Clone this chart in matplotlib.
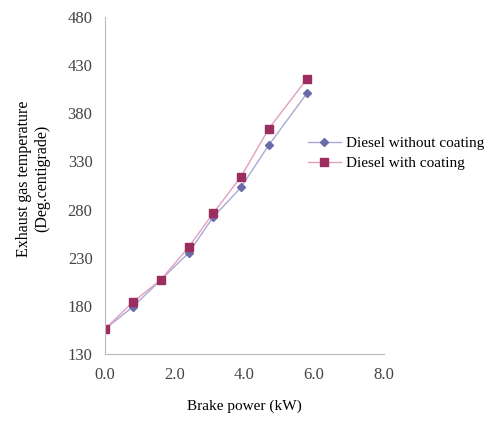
import matplotlib.pyplot as plt

# dati
brake_power = [0.0, 0.8, 1.6, 2.4, 3.1, 3.9, 4.7, 5.8]
temp_without = [156, 179, 207, 235, 272, 303, 347, 401]
temp_with = [156, 184, 207, 241, 276, 314, 364, 416]
x_ticks = [0.0, 2.0, 4.0, 6.0, 8.0]
y_ticks = [130, 180, 230, 280, 330, 380, 430, 480]

plt.rcParams['font.family'] = ['Liberation Serif', 'DejaVu Serif']

fig = plt.figure(figsize=(4.94, 4.23), dpi=100)
ax = fig.add_axes([0.2126, 0.163, 0.5644, 0.797])

ax.plot(brake_power, temp_without, color='#a9a9d4', linewidth=1.0,
        marker='D', markersize=4.5, markerfacecolor='#6b6ba8',
        markeredgecolor='#6b6ba8', label='Diesel without coating')
ax.plot(brake_power, temp_with, color='#e0a0c0', linewidth=1.0,
        marker='s', markersize=6, markerfacecolor='#9b2d5f',
        markeredgecolor='#9b2d5f', label='Diesel with coating')

ax.set_xlim(0, 8)
ax.set_ylim(130, 480)
ax.set_xticks(x_ticks)
ax.set_xticklabels(['%.1f' % v for v in x_ticks])
ax.set_yticks(y_ticks)
ax.tick_params(length=0, labelsize=12, colors='#444444', pad=9)

for s in ['top', 'right']:
    ax.spines[s].set_visible(False)
for s in ['left', 'bottom']:
    ax.spines[s].set_color('#bbbbbb')

ax.set_xlabel('Brake power (kW)', fontsize=11, labelpad=12)
ax.set_ylabel('Exhaust gas temperature\n(Deg.centigrade)', fontsize=11.5, labelpad=10)
ax.yaxis.set_label_coords(-0.195, 0.52)

fig.legend(loc='upper left', bbox_to_anchor=(0.595, 0.71), frameon=False,
           fontsize=11, handlelength=2.2, handletextpad=0.3, labelspacing=0.4)

fig.savefig('out.png', dpi=100)
